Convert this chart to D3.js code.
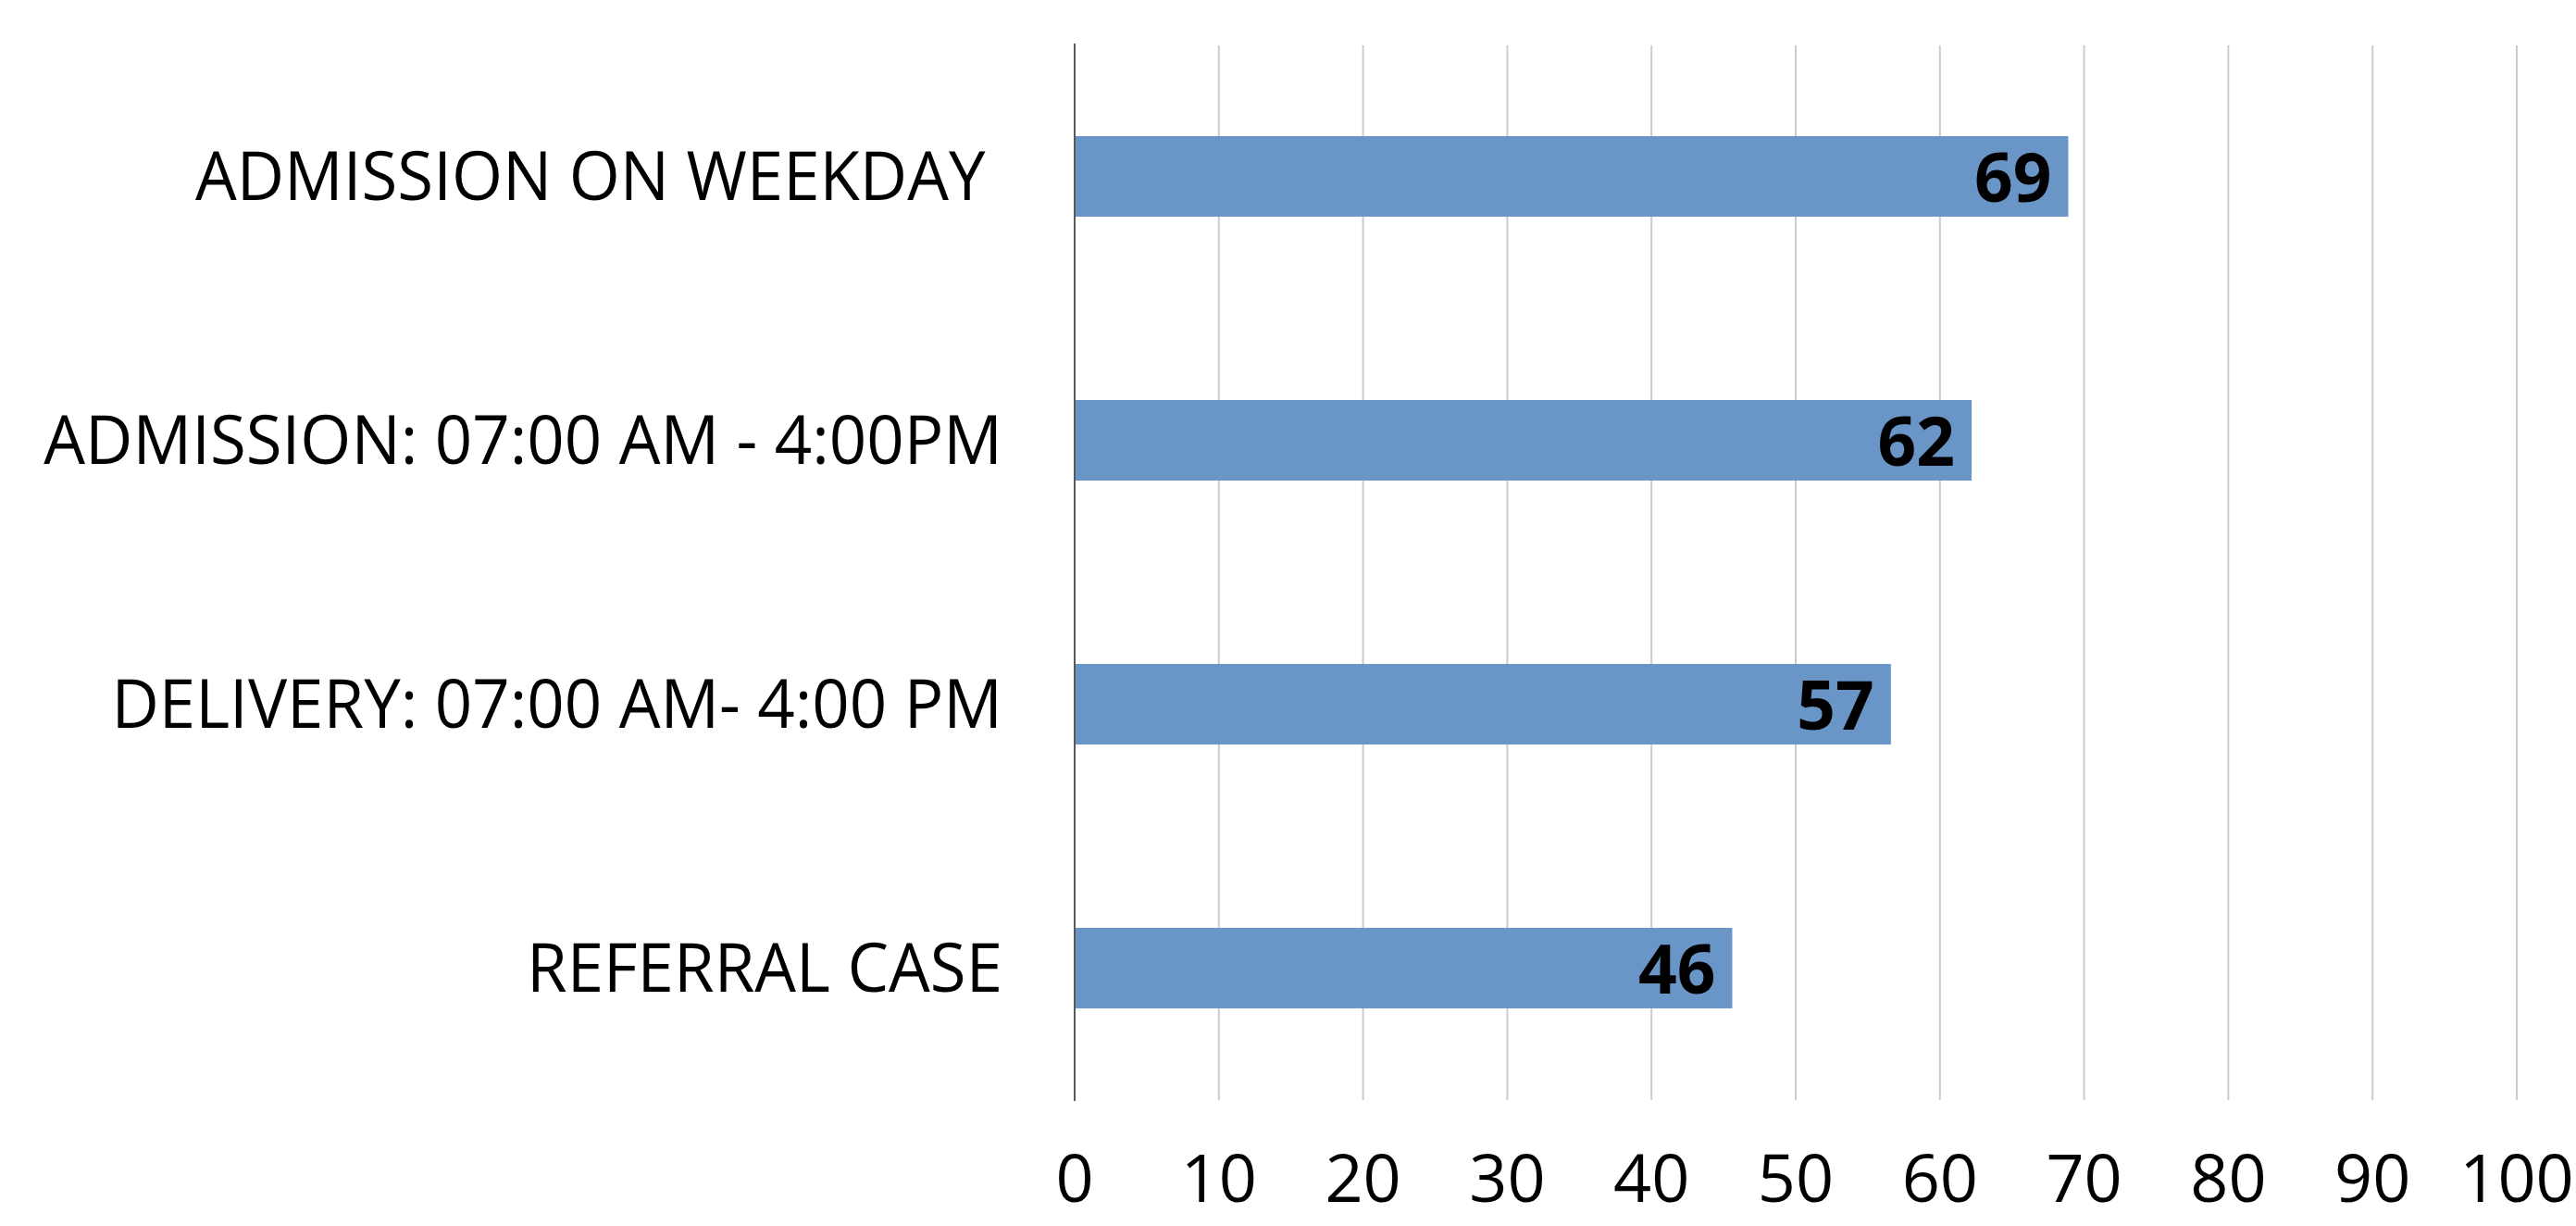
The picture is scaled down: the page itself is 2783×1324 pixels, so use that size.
<!DOCTYPE html>
<html>
<head>
<meta charset="utf-8">
<script src="https://cdn.jsdelivr.net/npm/d3@7"></script>
<style>
  html, body { margin: 0; padding: 0; background: #fff; }
  svg text { white-space: pre; }
</style>
</head>
<body>
<script>
// data
const categories = ['ADMISSION ON WEEKDAY ', 'ADMISSION: 07:00 AM - 4:00PM', 'DELIVERY: 07:00 AM- 4:00 PM', 'REFERRAL CASE'];
const values = [68.9, 62.2, 56.6, 45.6];
const xTicks = [0, 10, 20, 30, 40, 50, 60, 70, 80, 90, 100];

let width = 2783;
let height = 1324;
let margin = {top: 48, right: 64, bottom: 136, left: 1161};
let font = "'Open Sans', 'Noto Sans', sans-serif";
let labelRight = 1083;

let svg = d3.select('body').append('svg')
   .attr('width', width)
   .attr('height', height);

let x = d3.scaleLinear()
   .domain([0, 100])
   .range([margin.left, width - margin.right]);

let y = d3.scaleBand()
   .domain(categories)
   .range([margin.top, height - margin.bottom])
   .paddingInner(0.695)
   .paddingOuter(0.3475);

// vertical gridlines
svg.append('g')
   .selectAll('line')
   .data(xTicks.slice(1))
   .enter()
   .append('line')
      .attr('x1', d => x(d))
      .attr('x2', d => x(d))
      .attr('y1', margin.top + 1)
      .attr('y2', height - margin.bottom)
      .attr('stroke', '#cccccc')
      .attr('stroke-width', 2);

// bars
svg.append('g')
   .selectAll('rect')
   .data(values)
   .enter()
   .append('rect')
      .attr('x', x(0))
      .attr('y', (d, i) => y(categories[i]))
      .attr('width', d => x(d) - x(0))
      .attr('height', y.bandwidth())
      .attr('fill', '#6995c7');

// value axis line
svg.append('line')
   .attr('x1', x(0))
   .attr('x2', x(0))
   .attr('y1', margin.top - 1)
   .attr('y2', height - margin.bottom + 1)
   .attr('stroke', '#595959')
   .attr('stroke-width', 2);

// tick labels under the plot
svg.append('g')
   .selectAll('text')
   .data(xTicks)
   .enter()
   .append('text')
      .attr('x', d => x(d))
      .attr('y', 1298)
      .attr('text-anchor', 'middle')
      .attr('font-family', font)
      .attr('font-size', 72)
      .attr('fill', '#000')
      .text(d => d);

// category labels, squeezed a little to get Calibri-like widths
svg.append('g')
   .attr('transform', `translate(${labelRight},0) scale(0.97,1)`)
   .selectAll('text')
   .data(categories)
   .enter()
   .append('text')
      .attr('x', 0)
      .attr('y', d => y(d) + y.bandwidth() / 2 + 26)
      .attr('text-anchor', 'end')
      .attr('font-family', font)
      .attr('font-size', 73)
      .attr('fill', '#000')
      .text(d => d);

// value labels inside the bar ends
svg.append('g')
   .selectAll('text')
   .data(values)
   .enter()
   .append('text')
      .attr('x', d => x(d) - 18)
      .attr('y', (d, i) => y(categories[i]) + y.bandwidth() / 2 + 27)
      .attr('text-anchor', 'end')
      .attr('font-family', font)
      .attr('font-weight', 'bold')
      .attr('font-size', 73)
      .attr('fill', '#000')
      .text(d => Math.round(d));
</script>
</body>
</html>
